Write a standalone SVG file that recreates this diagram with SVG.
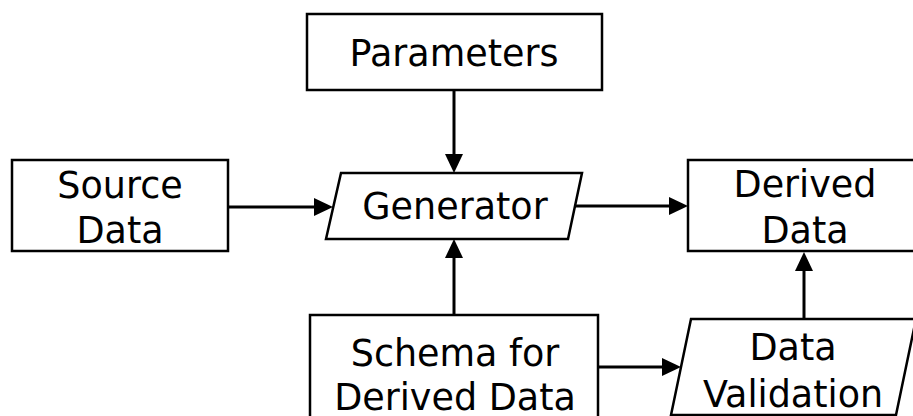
<svg xmlns="http://www.w3.org/2000/svg" width="913" height="416" viewBox="0 0 913 416">
  <defs>
    <style>
      .box { fill: #ffffff; stroke: #000000; stroke-width: 2.5; }
      .label { font-family: "DejaVu Sans", "Verdana", sans-serif; font-size: 36.5px; fill: #000000; text-anchor: middle; }
      .link { fill: none; stroke: #000000; stroke-width: 3; marker-end: url(#arrow); }
    </style>
    <!-- solid triangular head; the line stops at its base -->
    <marker id="arrow" markerUnits="userSpaceOnUse" markerWidth="19" markerHeight="18" refX="0" refY="9" orient="auto">
      <path d="M0,0 L19,9 L0,18 Z" fill="#000000"/>
    </marker>
  </defs>

  <rect width="913" height="416" fill="#ffffff"/>

  <g id="connectors">
    <line class="link" x1="454" y1="90" x2="454" y2="154"/>
    <line class="link" x1="228" y1="207" x2="314" y2="207"/>
    <line class="link" x1="454" y1="315" x2="454" y2="258"/>
    <line class="link" x1="575" y1="206" x2="669" y2="206"/>
    <line class="link" x1="598" y1="367" x2="662" y2="367"/>
    <line class="link" x1="804" y1="319" x2="804" y2="271"/>
  </g>

  <g id="parameters">
    <rect class="box" x="307" y="14" width="295" height="76"/>
    <text class="label" x="454" y="66">Parameters</text>
  </g>

  <g id="source-data">
    <rect class="box" x="12" y="160" width="216" height="91"/>
    <text class="label" x="120" y="198">Source</text>
    <text class="label" x="120" y="243">Data</text>
  </g>

  <g id="generator">
    <polygon class="box" points="341,173 582,173 568,239 326,239"/>
    <text class="label" x="455" y="219">Generator</text>
  </g>

  <g id="derived-data">
    <rect class="box" x="688" y="160" width="240" height="91"/>
    <text class="label" x="805" y="197">Derived</text>
    <text class="label" x="805" y="243">Data</text>
  </g>

  <g id="schema">
    <rect class="box" x="310" y="315" width="288" height="120"/>
    <text class="label" x="455" y="366">Schema for</text>
    <text class="label" x="455" y="410">Derived Data</text>
  </g>

  <g id="data-validation">
    <polygon class="box" points="691,319 916,319 896,415 671,415"/>
    <text class="label" x="793" y="360">Data</text>
    <text class="label" x="793" y="407">Validation</text>
  </g>
</svg>
